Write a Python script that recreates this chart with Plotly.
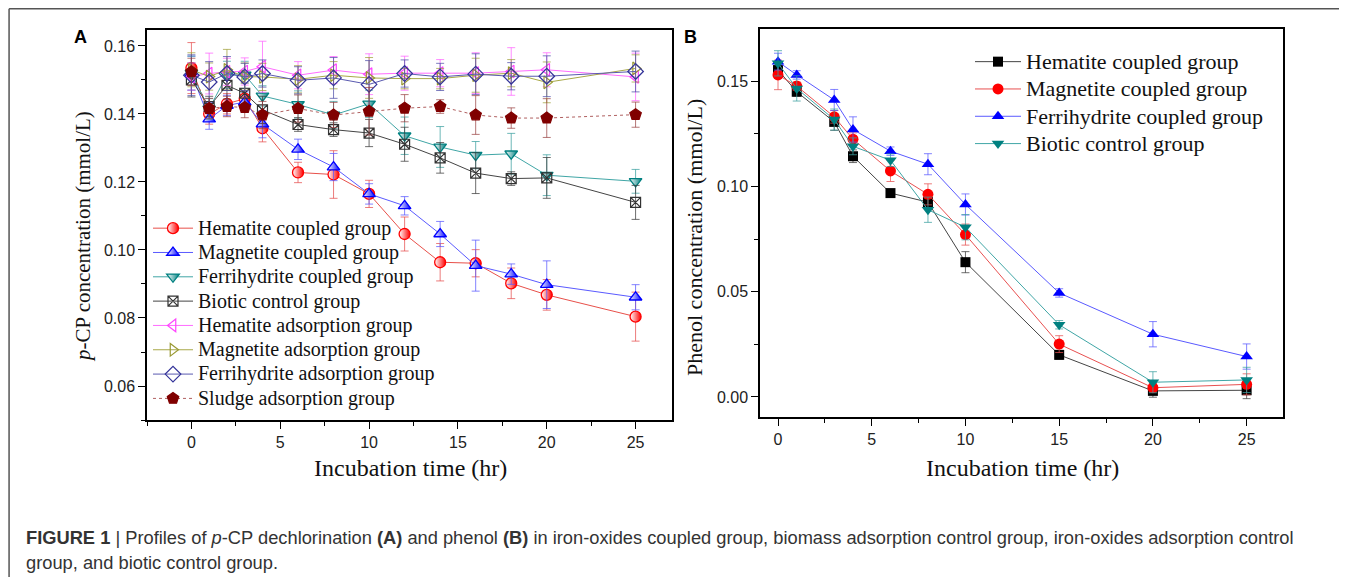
import plotly.graph_objects as go

W, H = 1347, 577
OFF = 8  # default page body margin
FW, FH = W - OFF, H - OFF

# ---------------- Panel A data (p-CP, mmol/L) ----------------
tA = [0, 1, 2, 3, 4, 6, 8, 10, 12, 14, 16, 18, 20, 25]
hem_c = [0.1535, 0.140, 0.143, 0.1445, 0.1358, 0.1228, 0.1222, 0.1165, 0.1047, 0.0964, 0.0961, 0.0902, 0.0868, 0.0804]
hem_c_err = [0.0075, 0.003, 0.003, 0.003, 0.004, 0.003, 0.007, 0.004, 0.005, 0.0055, 0.004, 0.0045, 0.0045, 0.0072]
mag_c = [0.152, 0.1385, 0.1425, 0.1435, 0.137, 0.1296, 0.1244, 0.1165, 0.113, 0.1047, 0.0954, 0.0929, 0.0898, 0.0861]
mag_c_err = [0.005, 0.003, 0.003, 0.003, 0.004, 0.003, 0.004, 0.003, 0.0027, 0.0037, 0.0075, 0.003, 0.007, 0.0037]
fer_c = [0.152, 0.1415, 0.1515, 0.1515, 0.1453, 0.1428, 0.1397, 0.143, 0.1336, 0.1303, 0.1279, 0.1283, 0.122, 0.1202]
fer_c_err = [0.005, 0.003, 0.004, 0.004, 0.003, 0.004, 0.004, 0.004, 0.0055, 0.006, 0.004, 0.006, 0.006, 0.0035]
bio_a = [0.150, 0.1422, 0.1484, 0.1461, 0.1412, 0.1369, 0.1354, 0.1344, 0.1311, 0.1271, 0.1226, 0.121, 0.1212, 0.114]
bio_a_err = [0.005, 0.003, 0.004, 0.003, 0.004, 0.002, 0.002, 0.004, 0.005, 0.0045, 0.006, 0.002, 0.006, 0.005]
hem_ads = [0.151, 0.1519, 0.1524, 0.1525, 0.1539, 0.1514, 0.1529, 0.1517, 0.152, 0.152, 0.152, 0.1525, 0.153, 0.1509]
hem_ads_err = [0.004, 0.006, 0.004, 0.004, 0.0075, 0.004, 0.004, 0.006, 0.005, 0.004, 0.006, 0.007, 0.005, 0.007]
mag_ads = [0.153, 0.151, 0.153, 0.151, 0.1509, 0.1502, 0.1514, 0.1506, 0.1504, 0.1504, 0.1514, 0.152, 0.1493, 0.1534]
mag_ads_err = [0.005, 0.004, 0.006, 0.004, 0.004, 0.004, 0.004, 0.006, 0.003, 0.003, 0.005, 0.004, 0.006, 0.004]
fer_ads = [0.1514, 0.1494, 0.1519, 0.1509, 0.1519, 0.1499, 0.1506, 0.1487, 0.1519, 0.1509, 0.1517, 0.1511, 0.1511, 0.1525]
fer_ads_err = [0.006, 0.006, 0.005, 0.004, 0.004, 0.004, 0.006, 0.007, 0.004, 0.004, 0.006, 0.004, 0.006, 0.006]
sludge = [0.1524, 0.1416, 0.1422, 0.1419, 0.1397, 0.1416, 0.1397, 0.1408, 0.1417, 0.1422, 0.1397, 0.1388, 0.1388, 0.1398]
sludge_err = [0.004, 0.003, 0.003, 0.003, 0.004, 0.004, 0.0037, 0.007, 0.004, 0.002, 0.0057, 0.003, 0.0057, 0.0037]

# ---------------- Panel B data (phenol, mmol/L) ----------------
tB = [0, 1, 3, 4, 6, 8, 10, 15, 20, 25]
hemB = [0.1552, 0.1449, 0.1306, 0.1143, 0.0968, 0.0925, 0.064, 0.020, 0.0029, 0.0032]
hemB_err = [0.004, 0.002, 0.004, 0.003, 0.001, 0.003, 0.005, 0.002, 0.003, 0.004]
magB = [0.1529, 0.1476, 0.133, 0.1224, 0.1073, 0.0962, 0.0771, 0.0251, 0.0044, 0.006]
magB_err = [0.007, 0.002, 0.003, 0.003, 0.005, 0.005, 0.005, 0.004, 0.002, 0.005]
ferB = [0.1592, 0.1529, 0.141, 0.127, 0.1167, 0.1105, 0.0914, 0.0494, 0.0298, 0.0192]
ferB_err = [0.004, 0.002, 0.005, 0.006, 0.002, 0.005, 0.005, 0.002, 0.006, 0.006]
bioB = [0.1584, 0.1465, 0.1317, 0.119, 0.1124, 0.0889, 0.0806, 0.0343, 0.007, 0.0081]
bioB_err = [0.006, 0.006, 0.005, 0.004, 0.003, 0.006, 0.006, 0.002, 0.005, 0.006]

SERIF = "Liberation Serif, Times New Roman, serif"
SANS = "Liberation Sans, Arial, sans-serif"

fig = go.Figure()


def lg(name, size):
    return '<span style="font-size:%spx">%s</span>' % (size, name)


def add_a(name, y, err, color, lcolor, ecolor, symbol, fill=None, dash="solid", size=10):
    if fill == "half":
        marker = dict(symbol=symbol, size=size, color="white",
                      gradient=dict(type="horizontal", color=color),
                      line=dict(color=color, width=1.3))
    else:
        marker = dict(symbol=symbol, size=size, color=color, line=dict(color=color, width=1.2))
    fig.add_trace(go.Scatter(
        x=tA, y=y, name=lg(name, 20), mode="lines+markers",
        line=dict(color=lcolor, width=1, dash=dash),
        marker=marker,
        error_y=dict(type="data", array=err, color=ecolor, thickness=1, width=4),
        xaxis="x", yaxis="y", legend="legend",
    ))


add_a("Hematite coupled group", hem_c, hem_c_err, "#ff0000", "#e8504a", "rgba(230,80,80,0.75)", "circle", "half", size=11)
add_a("Magnetite coupled group", mag_c, mag_c_err, "#0000ff", "#5a5aff", "rgba(90,90,255,0.75)", "triangle-up", "half", size=11)
add_a("Ferrihydrite coupled group", fer_c, fer_c_err, "#008080", "#40a6a6", "rgba(60,160,160,0.75)", "triangle-down", "half", size=11)
add_a("Biotic control group", bio_a, bio_a_err, "#333333", "#444444", "rgba(60,60,60,0.75)", "square-x-open", size=10)
add_a("Hematite adsorption group", hem_ads, hem_ads_err, "#ff44ff", "#ff6cff", "rgba(255,100,255,0.75)", "triangle-left-open", size=11)
add_a("Magnetite adsorption group", mag_ads, mag_ads_err, "#999933", "#a8a848", "rgba(160,160,60,0.75)", "triangle-right-open", size=11)
add_a("Ferrihydrite adsorption group", fer_ads, fer_ads_err, "#333399", "#5a5ab0", "rgba(80,80,170,0.75)", "diamond-open", size=12)
add_a("Sludge adsorption group", sludge, sludge_err, "#800000", "#b06060", "rgba(150,60,60,0.7)", "pentagon", dash="dot", size=12)


def add_b(name, y, err, color, lcolor, ecolor, symbol, size=10):
    fig.add_trace(go.Scatter(
        x=tB, y=y, name=lg(name, 22), mode="lines+markers",
        line=dict(color=lcolor, width=1),
        marker=dict(symbol=symbol, size=size, color=color, line=dict(width=0)),
        error_y=dict(type="data", array=err, color=ecolor, thickness=1, width=4),
        xaxis="x2", yaxis="y2", legend="legend2",
    ))


add_b("Hematite coupled group", hemB, hemB_err, "#000000", "#444444", "rgba(60,60,60,0.75)", "square", 10)
add_b("Magnetite coupled group", magB, magB_err, "#ff0000", "#e85050", "rgba(230,80,80,0.75)", "circle", 11)
add_b("Ferrihydrite coupled group", ferB, ferB_err, "#0000ff", "#5a5aff", "rgba(90,90,255,0.75)", "triangle-up", 11)
add_b("Biotic control group", bioB, bioB_err, "#008080", "#40a6a6", "rgba(60,160,160,0.75)", "triangle-down", 11)


def px(x):
    return (x - OFF) / FW


def py(y):
    return 1 - (y - OFF) / FH


axis_common = dict(
    showline=True, linecolor="black", linewidth=1.5, mirror=True,
    ticks="outside", ticklen=7, tickwidth=1.3, tickcolor="black",
    showgrid=False, zeroline=False,
    tickfont=dict(family=SANS, size=16, color="#222"),
)

fig.update_layout(
    width=FW, height=FH,
    margin=dict(l=0, r=0, t=0, b=0),
    paper_bgcolor="white", plot_bgcolor="white",
    xaxis=dict(domain=[px(147), px(672)], range=[-2.5, 27.05], anchor="y",
               tick0=0, dtick=5,
               minor=dict(dtick=2.5, tick0=0, ticks="outside", ticklen=4, tickcolor="black"),
               **axis_common),
    yaxis=dict(domain=[py(420), py(30)], range=[0.05, 0.1647], anchor="x",
               tick0=0.06, dtick=0.02, tickformat=".2f",
               minor=dict(dtick=0.01, tick0=0.05, ticks="outside", ticklen=4, tickcolor="black"),
               **axis_common),
    xaxis2=dict(domain=[px(760), px(1283)], range=[-0.96, 26.94], anchor="y2",
                tick0=0, dtick=5,
                minor=dict(dtick=2.5, tick0=0, ticks="outside", ticklen=4, tickcolor="black"),
                **axis_common),
    yaxis2=dict(domain=[py(417), py(29)], range=[-0.0095, 0.1747], anchor="x2",
                tick0=0, dtick=0.05, tickformat=".2f",
                minor=dict(dtick=0.025, tick0=0, ticks="outside", ticklen=4, tickcolor="black"),
                **axis_common),
    legend=dict(x=px(148), y=py(211), xanchor="left", yanchor="top",
                bgcolor="rgba(0,0,0,0)", borderwidth=0, itemwidth=40,
                font=dict(family=SERIF, size=16.4, color="#111"),
                tracegroupgap=0),
    legend2=dict(x=px(970), y=py(43), xanchor="left", yanchor="top",
                 bgcolor="rgba(0,0,0,0)", borderwidth=0, itemwidth=46,
                 font=dict(family=SERIF, size=18.7, color="#111"),
                 tracegroupgap=0),
    showlegend=True,
)


def note(text, x, y, size, family, color="#111", angle=0, xanchor="center"):
    return dict(text=text, x=px(x), y=py(y), xref="paper", yref="paper",
                xanchor=xanchor, yanchor="middle", textangle=angle,
                showarrow=False, font=dict(family=family, size=size, color=color))


ann = [
    note("<b>A</b>", 80, 37, 18, SANS, "black"),
    note("<b>B</b>", 690, 37, 18, SANS, "black"),
    note("<i>p</i>-CP concentration (mmol/L)", 83, 237, 21, SERIF, angle=-90),
    note("Phenol concentration (mmol/L)", 695, 238, 22, SERIF, angle=-90),
    note("Incubation time (hr)", 410, 468, 24, SERIF),
    note("Incubation time (hr)", 1022, 468, 24, SERIF),
    note("<b>FIGURE 1 </b>| Profiles of <i>p</i>-CP dechlorination <b>(A)</b> and phenol <b>(B)</b> in iron-oxides coupled group, biomass adsorption control group, iron-oxides adsorption control",
         24, 537, 18.3, SANS, "#333", xanchor="left"),
    note("group, and biotic control group.", 24, 562, 18.3, SANS, "#333", xanchor="left"),
]
fig.update_layout(annotations=ann)

# figure frame (top and left rules)
fig.add_shape(type="line", xref="paper", yref="paper", x0=0.0008, x1=1.0, y0=0.9985, y1=0.9985,
              line=dict(color="#555", width=1.5))
fig.add_shape(type="line", xref="paper", yref="paper", x0=0.0008, x1=0.0008, y0=0.9985, y1=0.0,
              line=dict(color="#555", width=1.5))

fig.write_html("out.html")
